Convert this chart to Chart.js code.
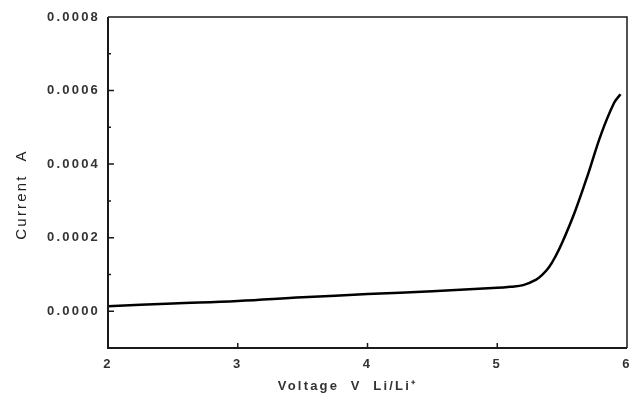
<!DOCTYPE html>
<html>
<head>
<meta charset="utf-8">
<script src="https://cdn.jsdelivr.net/npm/chart.js@4.4.1/dist/chart.umd.min.js"></script>
<style>
  html, body { margin: 0; padding: 0; background: #fff; }
  #wrap { width: 630px; height: 394px; position: relative; }
</style>
</head>
<body>
<div id="wrap"><canvas id="c" width="630" height="394"></canvas></div>
<script>
// Data
const voltage = [2.0, 2.5, 3.0, 3.5, 4.0, 4.5, 5.0, 5.1, 5.2, 5.3, 5.35, 5.4, 5.45, 5.5, 5.6, 5.7, 5.8, 5.9, 5.95];
const current = [0.0000135, 0.000021, 0.000028, 0.000038, 0.0000465, 0.0000545, 0.0000635, 0.0000665,
                 0.000071, 0.000086, 0.000100, 0.000120, 0.000150, 0.000186, 0.000272, 0.000373,
                 0.000481, 0.000566, 0.000590];
const xTicks = [2, 3, 4, 5, 6];
const yTicks = [0.0000, 0.0002, 0.0004, 0.0006, 0.0008];
const yMinorTicks = [0.0001, 0.0003, 0.0005, 0.0007];
const xTitle = 'Voltage  V  Li/Li\u207A';
const yTitle = 'Current  A';

const points = voltage.map((v, i) => ({ x: v, y: current[i] }));

function shiftTitle(scale, dx, dy) {
  if (!scale || scale._titleShifted) return;
  const orig = scale.drawTitle.bind(scale);
  scale.drawTitle = function () {
    const ctx = this.ctx;
    ctx.save();
    ctx.translate(dx, dy);
    orig();
    ctx.restore();
  };
  scale._titleShifted = true;
}

const spacingPlugin = {
  id: 'spacing',
  beforeUpdate(chart) { chart.ctx.letterSpacing = '2.2px'; },
  beforeDraw(chart) {
    chart.ctx.letterSpacing = '2.2px';
    shiftTitle(chart.scales.x, -20, 0);
    shiftTitle(chart.scales.y, 0, 12);
  }
};

const framePlugin = {
  id: 'frame',
  afterDatasetsDraw(chart) {
    const ctx = chart.ctx;
    const a = chart.chartArea;
    const xs = chart.scales.x, ys = chart.scales.y;
    ctx.save();
    ctx.strokeStyle = '#1a1a1a';
    ctx.lineWidth = 1.5;
    ctx.beginPath();
    ctx.moveTo(a.left, a.top); ctx.lineTo(a.right, a.top); ctx.lineTo(a.right, a.bottom);
    ctx.stroke();
    ctx.lineWidth = 2;
    ctx.beginPath();
    ctx.moveTo(a.left, a.top); ctx.lineTo(a.left, a.bottom); ctx.lineTo(a.right, a.bottom);
    ctx.stroke();
    ctx.lineWidth = 1.5;
    ctx.beginPath();
    xTicks.forEach(v => {
      const px = xs.getPixelForValue(v);
      if (px > a.left + 2 && px < a.right - 2) { ctx.moveTo(px, a.bottom); ctx.lineTo(px, a.bottom - 5); }
    });
    yTicks.forEach(v => {
      const py = ys.getPixelForValue(v);
      if (py > a.top + 2) { ctx.moveTo(a.left, py); ctx.lineTo(a.left + 6, py); }
    });
    yMinorTicks.forEach(v => {
      const py = ys.getPixelForValue(v);
      ctx.moveTo(a.left, py); ctx.lineTo(a.left + 3, py);
    });
    ctx.stroke();
    ctx.restore();
  }
};

new Chart(document.getElementById('c'), {
  type: 'scatter',
  data: {
    datasets: [{
      data: points,
      showLine: true,
      borderColor: '#000',
      borderWidth: 2.5,
      pointRadius: 0,
      tension: 0.4,
      fill: false
    }]
  },
  options: {
    responsive: false,
    animation: false,
    devicePixelRatio: 1,
    layout: { padding: { top: 17, right: 3, left: 0, bottom: 0 } },
    plugins: { legend: { display: false }, tooltip: { enabled: false } },
    scales: {
      x: {
        type: 'linear',
        min: 2, max: 6,
        afterBuildTicks(s) { s.ticks = xTicks.map(v => ({ value: v })); },
        afterFit(s) { s.height = 46; s.paddingLeft = 0; s.paddingRight = 0; },
        grid: { display: false, drawTicks: false },
        border: { display: false },
        ticks: {
          padding: 9,
          color: '#333',
          font: { family: 'Liberation Sans', size: 13, weight: 'bold' },
          maxRotation: 0,
          callback: v => String(v)
        },
        title: {
          display: true,
          text: xTitle,
          color: '#333',
          font: { family: 'Liberation Sans', size: 13, weight: 'bold' },
          padding: { top: 0, bottom: 0 }
        }
      },
      y: {
        type: 'linear',
        min: -0.0001, max: 0.0008,
        afterBuildTicks(s) { s.ticks = yTicks.map(v => ({ value: v })); },
        afterFit(s) { s.width = 108; s.paddingTop = 0; s.paddingBottom = 0; },
        grid: { display: false, drawTicks: false },
        border: { display: false },
        ticks: {
          padding: 8,
          color: '#333',
          font: { family: 'Liberation Sans', size: 13, weight: 'bold' },
          callback: v => Number(v).toFixed(4)
        },
        title: {
          display: true,
          text: yTitle,
          color: '#222',
          font: { family: 'Liberation Sans', size: 15 },
          padding: { top: 13, bottom: 0 }
        }
      }
    }
  },
  plugins: [spacingPlugin, framePlugin]
});
</script>
</body>
</html>
